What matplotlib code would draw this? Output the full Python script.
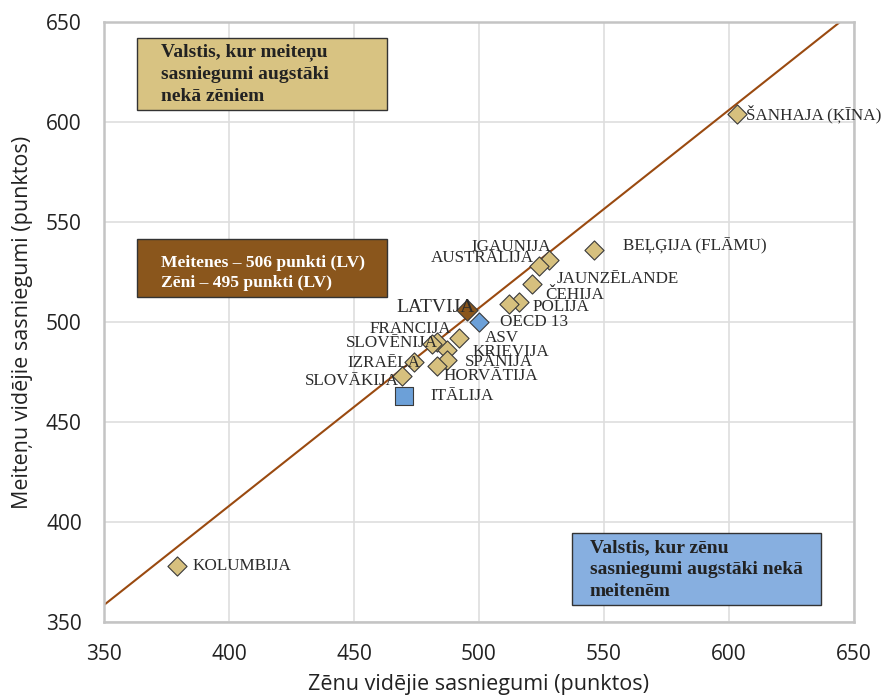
import matplotlib
matplotlib.use('Agg')
import matplotlib.pyplot as plt
from matplotlib.patches import Rectangle

# scores: boys (x), girls (y)
countries = ['ŠANHAJA (ĶĪNA)', 'BEĻĢIJA (FLĀMU)', 'IGAUNIJA', 'AUSTRĀLIJA', 'JAUNZĒLANDE',
             'ČEHIJA', 'POLIJA', 'ASV', 'FRANCIJA', 'SLOVĒNIJA', 'KRIEVIJA', 'SPĀNIJA',
             'HORVĀTIJA', 'IZRAĒLA', 'SLOVĀKIJA', 'KOLUMBIJA']
boys = [603, 546, 528, 524, 521, 516, 512, 492, 483, 481, 487, 487, 483, 474, 469, 379]
girls = [604, 536, 531, 528, 519, 510, 509, 492, 490, 489, 486, 481, 478, 480, 473, 378]

latvia = ('LATVIJA', 495, 506)
oecd = ('OECD 13', 500, 500)
italy = ('ITĀLIJA', 470, 463)

line_x = [350, 644]
line_y = [358.5, 649.6]

ticks = [350, 400, 450, 500, 550, 600, 650]

# label offsets in pixels (dx, dy, ha)
offs = {
    'ŠANHAJA (ĶĪNA)': (10, 0, 'left'), 'BEĻĢIJA (FLĀMU)': (29, 4, 'left'),
    'IGAUNIJA': (2, 13, 'right'), 'AUSTRĀLIJA': (-5, 8, 'right'),
    'JAUNZĒLANDE': (25, 5, 'left'), 'ČEHIJA': (26, 7, 'left'),
    'POLIJA': (24, -3, 'left'), 'ASV': (26, 0, 'left'),
    'FRANCIJA': (15, 13, 'right'), 'SLOVĒNIJA': (6, 1, 'right'),
    'KRIEVIJA': (26, -2, 'left'), 'SPĀNIJA': (18, -2, 'left'),
    'HORVĀTIJA': (7, -10, 'left'), 'IZRAĒLA': (6, -1, 'right'),
    'SLOVĀKIJA': (-3, -5, 'right'), 'KOLUMBIJA': (16, 0, 'left'),
    'LATVIJA': (8, 3, 'right'), 'OECD 13': (21, 0, 'left'), 'ITĀLIJA': (26, 0, 'left'),
}

tan = '#D6C07E'
brown = '#8A561C'
blue = '#6CA0D8'
edge = '#3a3a3a'
serif = 'Liberation Serif'
txtc = '#2b2b2b'

fig = plt.figure(figsize=(8.83, 6.98), dpi=100)
ax = fig.add_axes([104/883, 76/698, 750/883, 600/698])
ax.set_xlim(350, 650)
ax.set_ylim(350, 650)
ax.set_xticks(ticks)
ax.set_yticks(ticks)
ax.grid(True, color='#dedede', lw=1.2)
ax.set_axisbelow(True)
for s in ax.spines.values():
    s.set_color('#c4c4c4')
    s.set_linewidth(1.8)
ax.tick_params(length=0, pad=16, labelsize=15, labelcolor='#222222')
for lab in ax.get_xticklabels() + ax.get_yticklabels():
    lab.set_family('Open Sans')

ax.plot(line_x, line_y, color='#9A4A10', lw=1.5, zorder=2)

ax.scatter(boys, girls, marker='D', s=95, c=tan, edgecolors=edge, linewidths=0.8, zorder=3)
ax.scatter([latvia[1]], [latvia[2]], marker='D', s=115, c=brown, edgecolors=edge, linewidths=0.8, zorder=3)
ax.scatter([oecd[1]], [oecd[2]], marker='D', s=95, c=blue, edgecolors=edge, linewidths=0.8, zorder=3)
ax.scatter([italy[1]], [italy[2]], marker='s', s=180, c=blue, edgecolors=edge, linewidths=0.8, zorder=3)

def label(name, x, y, size=12.3):
    dx, dy, ha = offs[name]
    ax.annotate(name, (x, y), xytext=(dx*0.72, dy*0.72), textcoords='offset points',
                ha=ha, va='center', fontsize=size, family=serif, color=txtc, zorder=4)

for n, x, y in zip(countries, boys, girls):
    label(n, x, y)
label(latvia[0], latvia[1], latvia[2], size=14)
label(oecd[0], oecd[1], oecd[2])
label(italy[0], italy[1], italy[2])

# annotation boxes
ax.add_patch(Rectangle((363.2, 606), 100, 36, facecolor='#D8C382', edgecolor='#333333', lw=1, zorder=5))
ax.text(372.8, 624, 'Valstis, kur meiteņu\nsasniegumi augstāki\nnekā zēniem', ha='left', va='center',
        fontsize=14, fontweight='bold', family=serif, color='#222222', linespacing=1.38, zorder=6)

ax.add_patch(Rectangle((363.2, 512.5), 100, 29, facecolor=brown, edgecolor='#333333', lw=1, zorder=5))
ax.text(372.8, 524.5, 'Meitenes – 506 punkti (LV)\nZēni – 495 punkti (LV)', ha='left', va='center',
        fontsize=12.6, fontweight='bold', family=serif, color='white', linespacing=1.38, zorder=6)

ax.add_patch(Rectangle((537.2, 358.5), 99.6, 36, facecolor='#87AFE0', edgecolor='#333333', lw=1, zorder=5))
ax.text(544.4, 376, 'Valstis, kur zēnu\nsasniegumi augstāki nekā\nmeitenēm', ha='left', va='center',
        fontsize=14, fontweight='bold', family=serif, color='#222222', linespacing=1.38, zorder=6)

ax.set_xlabel('Zēnu vidējie sasniegumi (punktos)', fontsize=15.5, family='Open Sans', color='#222222', labelpad=6)
ax.set_ylabel('Meiteņu vidējie sasniegumi (punktos)', fontsize=15.5, family='Open Sans', color='#222222', labelpad=9)

fig.savefig('out.png', dpi=100)
